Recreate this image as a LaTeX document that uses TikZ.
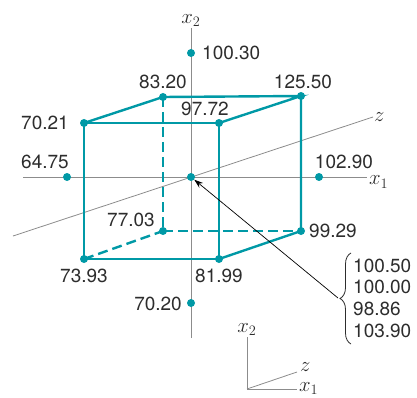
\documentclass[tikz,border=0pt]{standalone}
\usepackage{fontspec}
\setmainfont{TeX Gyre Heros}
\usetikzlibrary{arrows.meta,positioning,decorations.pathreplacing}

\definecolor{cubeteal}{RGB}{0,153,166}
\definecolor{axisgray}{RGB}{140,140,140}
\definecolor{inkgray}{RGB}{45,45,45}

\begin{document}
\begin{tikzpicture}[x=1pt, y=-1pt, font=\fontsize{19}{21.7}\selectfont,
  >={Stealth[length=9pt, width=6pt]},
  axis/.style={draw=axisgray, line width=0.8pt},
  edge/.style={draw=cubeteal, line width=2.4pt},
  hidden/.style={edge, dash pattern=on 10pt off 5pt},
  pt/.style={circle, fill=cubeteal, inner sep=0pt, minimum size=8pt},
  num/.style={inner sep=1pt, text=inkgray},
  axlbl/.style={inner sep=1pt, text=inkgray, font=\fontsize{21}{23}\selectfont}]
\useasboundingbox (0,0) rectangle (417,398);

% main axes
\coordinate (x2top) at (191,28);
\coordinate (x2bot) at (191,338);
\coordinate (x1lft) at (23,177);
\coordinate (x1rgt) at (367,177);
\coordinate (zlft) at (13,236);
\coordinate (zrgt) at (373,117);
\draw[axis] (x2bot) -- (x2top);
\draw[axis] (x1lft) -- (x1rgt);
\draw[axis] (zlft) -- (zrgt);
\node[axlbl, above] (lx2) at (x2top) {$x_2$};
\node[axlbl, anchor=west] (lx1) at (368,182) {$x_1$};
\node[axlbl, right] (lz) at (zrgt) {$z$};

% cube corners
\coordinate (ftl) at (84,123);
\coordinate (ftr) at (219,123);
\coordinate (fbl) at (84,259);
\coordinate (fbr) at (219,259);
\coordinate (btl) at (163,97);
\coordinate (btr) at (301,96);
\coordinate (bbl) at (163,231);
\coordinate (bbr) at (301,231);

% hidden edges
\draw[hidden] (btl) -- (bbl);
\draw[hidden] (bbl) -- (bbr);
\draw[hidden] (fbl) -- (bbl);
% visible edges
\draw[edge] (ftl) -- (ftr) -- (fbr) -- (fbl) -- cycle;
\draw[edge] (ftl) -- (btl) -- (btr) -- (ftr);
\draw[edge] (btr) -- (bbr) -- (fbr);

% points
\foreach \c in {ftl,ftr,fbl,fbr,btl,btr,bbl,bbr}
  \node[pt] (p\c) at (\c) {};
\node[pt] (ptop) at (191,53) {};
\node[pt] (pbot) at (191,303) {};
\node[pt] (plft) at (67,177) {};
\node[pt] (prgt) at (319,177) {};
\node[pt] (o) at (191,177) {};

% values
\node[num, anchor=west] (vtop) at (201,53) {100.30};
\node[num, anchor=east] (vbot) at (183,304) {70.20};
\node[num] (vlft) at (45,162) {64.75};
\node[num] (vrgt) at (344,162) {102.90};
\node[num] (vftl) at (45,123) {70.21};
\node[num] (vftr) at (205,109) {97.72};
\node[num] (vbtl) at (163,82) {83.20};
\node[num] (vbtr) at (303,82) {125.50};
\node[num] (vbbl) at (131,220) {77.03};
\node[num, anchor=west] (vbbr) at (308,231) {99.29};
\node[num] (vfbl) at (84,276) {73.93};
\node[num] (vfbr) at (219,276) {81.99};

% centre replicates
\draw[decorate, decoration={brace, amplitude=11pt}, line width=0.8pt, inkgray]
  (351,344) -- (351,253);
\coordinate (tip) at (338,298);
\node[num, anchor=west, align=left] (reps) at (352,298)
  {100.50\\100.00\\98.86\\103.90};
\draw[->, line width=0.7pt] (tip) -- (o);

% small key axes
\coordinate (k) at (247,389);
\coordinate (k2) at (247,337);
\coordinate (k1) at (297,389);
\coordinate (kz) at (297,372);
\draw[axis] (k2) -- (k) -- (k1);
\draw[axis] (k) -- (kz);
\node[axlbl, above] (lk2) at (k2) {$x_2$};
\node[axlbl, anchor=base west] (lk1) at (298,391) {$x_1$};
\node[axlbl, anchor=west] (lkz) at (299,367) {$z$};
\end{tikzpicture}
\end{document}
